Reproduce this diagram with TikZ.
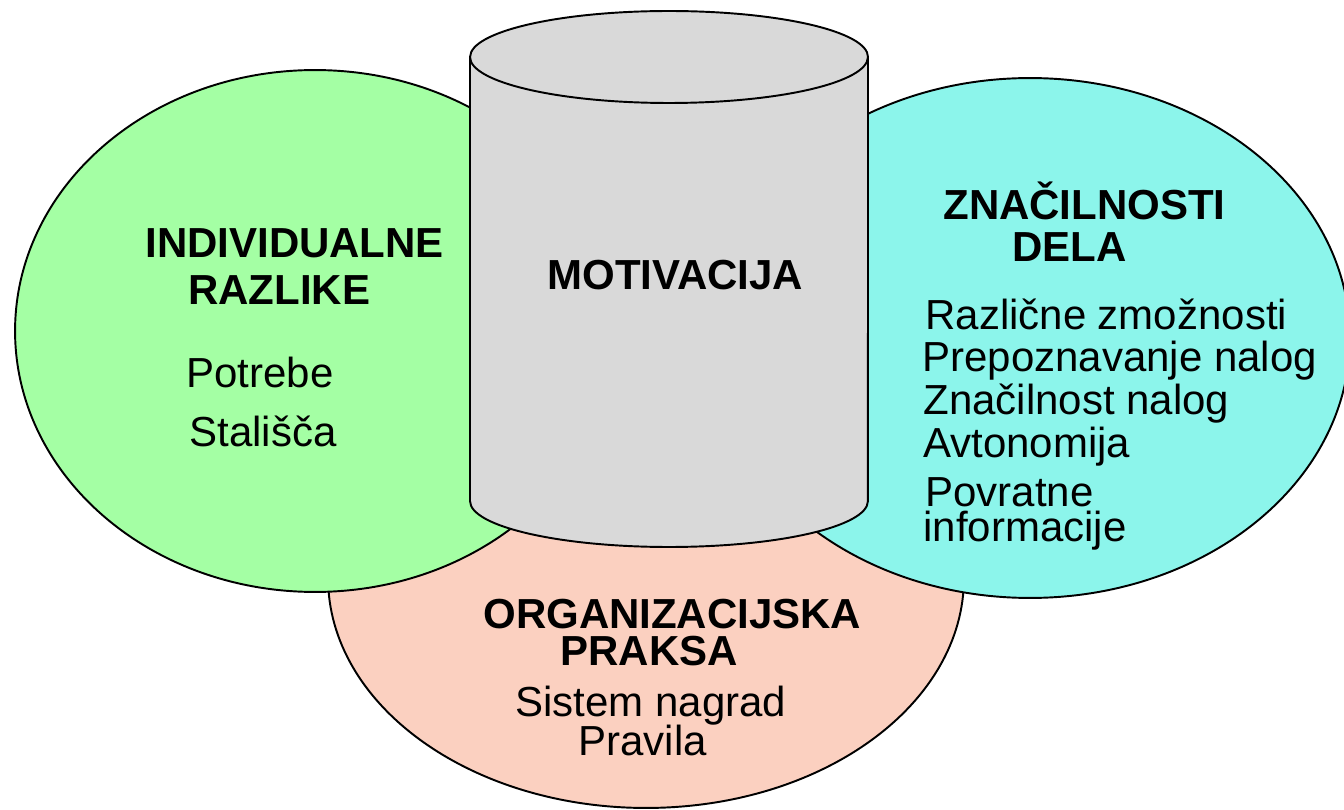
\documentclass[tikz,border=0pt]{standalone}
\usepackage{fontspec}
\setmainfont{Liberation Sans}
\usetikzlibrary{positioning}

\definecolor{indivgreen}{RGB}{164,255,164}
\definecolor{delacyan}{RGB}{140,245,235}
\definecolor{orgpink}{RGB}{251,208,192}
\definecolor{motivgray}{RGB}{217,217,217}

\tikzset{
  blob/.style={draw=black, line width=1.1pt},
  txt/.style={inner sep=0pt, anchor=base west, font=\fontsize{23.9}{28}\selectfont},
  head/.style={txt, font=\fontsize{23.9}{28}\selectfont\bfseries},
}

\begin{document}
\begin{tikzpicture}[x=0.02cm,y=-0.02cm]
	\clip (0,0) rectangle (1344,810);
	
	% ellipses, back to front
	\draw[blob, fill=orgpink] (646,578) ellipse [x radius=6.36cm, y radius=4.6cm];
	\draw[blob, fill=indivgreen] (315,331) ellipse [x radius=6cm, y radius=5.22cm];
	\draw[blob, fill=delacyan] (1030,338) ellipse [x radius=6.4cm, y radius=5.2cm];
	
	% cylinder
	\draw[blob, fill=motivgray] (470,57) -- (470,501)
		arc[start angle=180, end angle=360, x radius=3.98cm, y radius=0.92cm] -- (868,57)
		arc[start angle=0, end angle=180, x radius=3.98cm, y radius=0.92cm] -- cycle;
	\draw[blob] (470,57) arc[start angle=180, end angle=360, x radius=3.98cm, y radius=0.92cm];
	
	\node[head] (indiv) at (145,258) {INDIVIDUALNE};
	\node[head] (razlike) at (188,305) {RAZLIKE};
	\node[txt] (potrebe) at (186,387) {Potrebe};
	\node[txt] (stalisca) at (189,446) {Stališča};
	
	\node[head] (motiv) at (547,290) {MOTIVACIJA};
	
	\node[head] (znac) at (943,220) {ZNAČILNOSTI};
	\node[head] (dela) at (1012,262) {DELA};
	\node[txt] (razl) at (925,330) {Različne zmožnosti};
	\node[txt] (prep) at (922,372) {Prepoznavanje nalog};
	\node[txt] (znacnal) at (923,415) {Značilnost nalog};
	\node[txt] (avto) at (923,457) {Avtonomija};
	\node[txt] (povr) at (925,506) {Povratne};
	\node[txt] (info) at (923,541) {informacije};
	
	\node[head] (org) at (483,628) {ORGANIZACIJSKA};
	\node[head] (praksa) at (560,665) {PRAKSA};
	\node[txt] (sistem) at (515,716) {Sistem nagrad};
	\node[txt] (pravila) at (578,755) {Pravila};
\end{tikzpicture}
\end{document}
